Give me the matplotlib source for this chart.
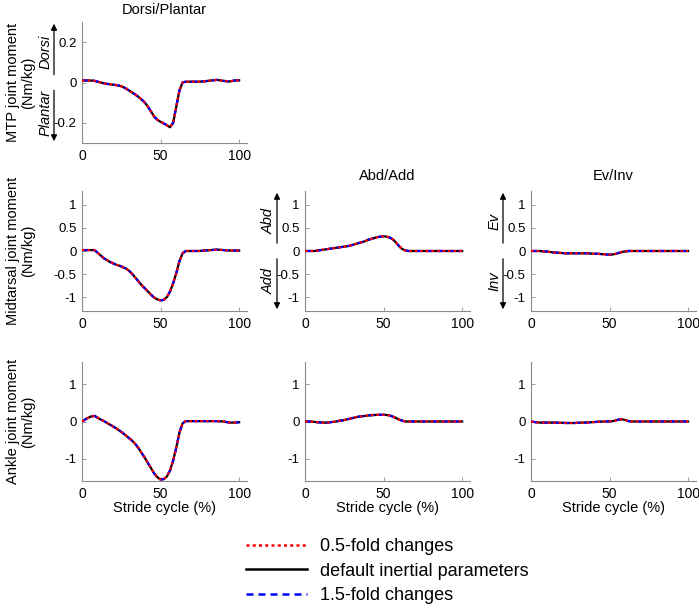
import matplotlib
matplotlib.use("Agg")
import matplotlib.pyplot as plt
from matplotlib.lines import Line2D
from matplotlib.patches import FancyArrowPatch

plt.rcParams['font.family'] = ['Liberation Sans', 'DejaVu Sans']

# ---------------- data ----------------
stride = [0, 3, 6, 8, 10, 12, 14, 16, 18, 20, 22, 24, 26, 28, 30, 32, 34, 36, 38, 40,
          42, 44, 46, 48, 50, 52, 54, 56, 58, 60, 62, 64, 66, 68, 70, 74, 78, 82, 86,
          90, 94, 97, 100]

mtp_dp = [0.010, 0.010, 0.010, 0.008, 0.004, 0.000, -0.004, -0.007, -0.009, -0.011, -0.013,
          -0.016, -0.022, -0.030, -0.040, -0.050, -0.060, -0.072, -0.085, -0.100,
          -0.120, -0.145, -0.170, -0.185, -0.195, -0.203, -0.212, -0.222, -0.200, -0.120,
          -0.040, 0.000, 0.004, 0.004, 0.004, 0.004, 0.006, 0.010, 0.013, 0.008, 0.005,
          0.010, 0.011]

mid_dp = [0.02, 0.02, 0.02, 0.02, -0.04, -0.10, -0.16, -0.20, -0.24, -0.27, -0.30,
          -0.32, -0.35, -0.38, -0.43, -0.50, -0.58, -0.66, -0.74, -0.81,
          -0.88, -0.95, -1.01, -1.05, -1.07, -1.06, -1.00, -0.88, -0.70, -0.48,
          -0.22, -0.05, 0.00, 0.00, 0.00, 0.00, 0.01, 0.02, 0.03, 0.02, 0.01,
          0.01, 0.01]

mid_aa = [0.00, 0.00, 0.00, 0.01, 0.02, 0.03, 0.04, 0.05, 0.06, 0.07, 0.08,
          0.09, 0.10, 0.11, 0.13, 0.15, 0.17, 0.19, 0.21, 0.24,
          0.26, 0.28, 0.30, 0.31, 0.32, 0.31, 0.29, 0.25, 0.18, 0.10,
          0.04, 0.01, 0.00, 0.00, 0.00, 0.00, 0.00, 0.00, 0.00, 0.00, 0.00,
          0.00, 0.00]

mid_ei = [0.00, 0.00, 0.00, -0.01, -0.01, -0.02, -0.03, -0.035, -0.04, -0.045, -0.05,
          -0.05, -0.05, -0.05, -0.05, -0.05, -0.05, -0.05, -0.055, -0.06,
          -0.06, -0.065, -0.07, -0.075, -0.08, -0.075, -0.06, -0.04, -0.02, -0.01,
          0.00, 0.00, 0.00, 0.00, 0.00, 0.00, 0.00, 0.00, 0.00, 0.00, 0.00,
          0.00, 0.00]

ank_dp = [0.00, 0.08, 0.14, 0.15, 0.10, 0.05, 0.01, -0.04, -0.09, -0.14, -0.19,
          -0.25, -0.31, -0.38, -0.45, -0.52, -0.61, -0.72, -0.85, -0.98,
          -1.12, -1.26, -1.40, -1.50, -1.56, -1.55, -1.48, -1.32, -1.05, -0.70,
          -0.30, -0.05, 0.01, 0.01, 0.01, 0.01, 0.01, 0.01, 0.01, 0.00, -0.03,
          -0.03, -0.02]

ank_aa = [0.00, 0.00, -0.01, -0.02, -0.025, -0.03, -0.03, -0.02, -0.01, 0.00, 0.02,
          0.03, 0.05, 0.07, 0.09, 0.11, 0.13, 0.14, 0.15, 0.16,
          0.17, 0.175, 0.18, 0.18, 0.18, 0.175, 0.16, 0.13, 0.09, 0.05,
          0.02, 0.00, 0.00, 0.00, 0.00, 0.00, 0.00, 0.00, 0.00, 0.00, 0.00,
          0.00, 0.00]

ank_ei = [0.00, -0.02, -0.03, -0.03, -0.03, -0.03, -0.03, -0.03, -0.035, -0.035, -0.04,
          -0.04, -0.04, -0.04, -0.035, -0.03, -0.03, -0.025, -0.02, -0.015,
          -0.01, -0.005, 0.00, 0.00, 0.005, 0.01, 0.03, 0.055, 0.06, 0.04,
          0.01, 0.00, 0.00, 0.00, 0.00, 0.00, 0.00, 0.00, 0.00, 0.00, 0.00,
          0.00, 0.00]

series_labels = ["0.5-fold changes", "default inertial parameters", "1.5-fold changes"]
col_titles = ["Dorsi/Plantar", "Abd/Add", "Ev/Inv"]
row_labels = ["MTP joint moment\n(Nm/kg)", "Midtarsal joint moment\n(Nm/kg)",
              "Ankle joint moment\n(Nm/kg)"]
xticks = [0, 50, 100]
mtp_yticks = [-0.2, 0, 0.2]
mtp_yticklabels = ["-0.2", "0", "0.2"]
mid_yticks = [-1, -0.5, 0, 0.5, 1]
mid_yticklabels = ["-1", "-0.5", "0", "0.5", "1"]
ank_yticks = [-1, 0, 1]
ank_yticklabels = ["-1", "0", "1"]
arrow_labels = [("Dorsi", "Plantar"), ("Abd", "Add"), ("Ev", "Inv")]

# ---------------- styles ----------------
RED_LS = (0, (1.2, 1.3))
BLUE_LS = (0, (2.8, 2.0))

# ---------------- layout ----------------
W, H = 699, 609
fig = plt.figure(figsize=(W / 100, H / 100), dpi=100)

col_left = [82, 305, 531]
ax_w = 165
rows = [(22, 143), (191, 311), (362, 481)]

def make_ax(col, row):
    top, bot = rows[row]
    ax = fig.add_axes([col_left[col] / W, 1 - bot / H, ax_w / W, (bot - top) / H])
    for s in ['top', 'right']:
        ax.spines[s].set_visible(False)
    for s in ['left', 'bottom']:
        ax.spines[s].set_color('#8c8c8c')
        ax.spines[s].set_linewidth(0.8)
    ax.tick_params(direction='in', length=3, width=0.6, color='#8c8c8c',
                   labelsize=10, labelcolor='black')
    ax.tick_params(axis='y', pad=4, labelsize=9.5)
    ax.tick_params(axis='x', pad=4)
    ax.set_xlim(0, 105)
    ax.set_xticks(xticks)
    ax.set_xticklabels([str(t) for t in xticks])
    return ax

def draw(ax, y):
    ax.plot(stride, y, color='black', lw=1.6, ls='-', zorder=2)
    ax.plot(stride, y, color='blue', lw=1.6, ls=BLUE_LS, zorder=3)
    ax.plot(stride, y, color='red', lw=1.6, ls=RED_LS, zorder=4)

def arrows(col, row, up_lbl, dn_lbl):
    top, bot = rows[row]
    ax = axes[(row, col)]
    lo, hi = ax.get_ylim()
    zero_px = top + (hi - 0) / (hi - lo) * (bot - top)
    x_px = col_left[col] - 28
    xf = x_px / W
    gap = 5
    fig.add_artist(FancyArrowPatch(
        (xf, 1 - (zero_px - gap) / H), (xf, 1 - (top - 1) / H),
        transform=fig.transFigure, arrowstyle='-|>', mutation_scale=9,
        color='black', lw=0.9))
    fig.add_artist(FancyArrowPatch(
        (xf, 1 - (zero_px + gap) / H), (xf, 1 - (bot + 1) / H),
        transform=fig.transFigure, arrowstyle='-|>', mutation_scale=9,
        color='black', lw=0.9))
    fig.text((x_px - 8.5) / W, 1 - ((top + zero_px) / 2) / H, up_lbl, rotation=90,
             style='italic', fontsize=10.5, ha='center', va='center')
    fig.text((x_px - 8.5) / W, 1 - ((bot + zero_px) / 2) / H, dn_lbl, rotation=90,
             style='italic', fontsize=10.5, ha='center', va='center')

axes = {}
ax = make_ax(0, 0)
draw(ax, mtp_dp)
ax.set_ylim(-0.3, 0.3)
ax.set_yticks(mtp_yticks)
ax.set_yticklabels(mtp_yticklabels)
axes[(0, 0)] = ax

for c, y in enumerate([mid_dp, mid_aa, mid_ei]):
    ax = make_ax(c, 1)
    draw(ax, y)
    ax.set_ylim(-1.3, 1.3)
    ax.set_yticks(mid_yticks)
    ax.set_yticklabels(mid_yticklabels)
    axes[(1, c)] = ax

for c, y in enumerate([ank_dp, ank_aa, ank_ei]):
    ax = make_ax(c, 2)
    draw(ax, y)
    ax.set_ylim(-1.6, 1.6)
    ax.set_yticks(ank_yticks)
    ax.set_yticklabels(ank_yticklabels)
    ax.set_xlabel("Stride cycle (%)", fontsize=10.5, labelpad=0)
    axes[(2, c)] = ax

# titles
axes[(0, 0)].set_title(col_titles[0], fontsize=10.5, pad=6)
axes[(1, 1)].set_title(col_titles[1], fontsize=10.5, pad=8)
axes[(1, 2)].set_title(col_titles[2], fontsize=10.5, pad=8)

# row labels
for r, lbl in enumerate(row_labels):
    top, bot = rows[r]
    fig.text(21 / W, 1 - ((top + bot) / 2) / H, lbl, rotation=90, fontsize=10.5,
             ha='center', va='center', multialignment='center', linespacing=1.1)

# direction arrows
arrows(0, 0, *arrow_labels[0])
arrows(1, 1, *arrow_labels[1])
arrows(2, 1, *arrow_labels[2])

# legend
handles = [Line2D([], [], color='red', lw=1.8, ls=RED_LS),
           Line2D([], [], color='black', lw=1.8, ls='-'),
           Line2D([], [], color='blue', lw=1.8, ls=BLUE_LS)]
fig.legend(handles, series_labels, loc='upper left',
           bbox_to_anchor=(246 / W, 1 - 538 / H), frameon=False, fontsize=13,
           handlelength=3.4, handletextpad=0.7, labelspacing=0.42,
           borderaxespad=0, borderpad=0)

fig.savefig("out.png", dpi=100)
